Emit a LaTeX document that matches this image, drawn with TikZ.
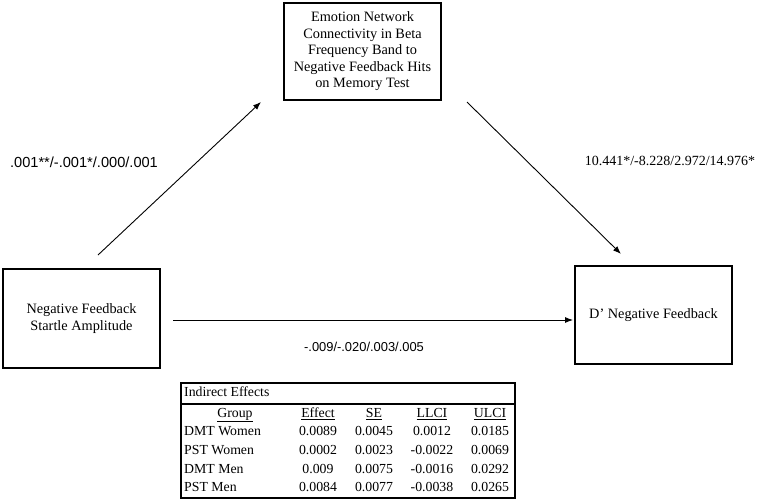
\documentclass[tikz,border=0pt]{standalone}
\usepackage{fontspec}
\setmainfont{Liberation Serif}
\newfontfamily\arialf{Liberation Sans}
\usetikzlibrary{arrows.meta}
\begin{document}
\begin{tikzpicture}[x=1pt,y=-1pt,
 box/.style={draw,line width=1.5pt,inner sep=0pt,font=\fontsize{14.3}{16.5}\selectfont,align=center},
 conn/.style={line width=0.9pt,-{Latex[length=8pt,width=6pt]}},
 lbl/.style={inner sep=0pt,font=\fontsize{14}{16}\selectfont},
 tcell/.style={inner sep=0pt,font=\fontsize{13.8}{15}\selectfont,text height=9.5pt,text depth=3pt}]
\useasboundingbox (0,0) rectangle (760,500);
% boxes
\node[box,minimum width=157pt,minimum height=97pt] (med) at (362.5,51.5)
  {Emotion Network\\Connectivity in Beta\\Frequency Band to\\Negative Feedback Hits\\on Memory Test};
\node[box,minimum width=157pt,minimum height=99pt] (iv) at (81.5,318.5)
  {Negative Feedback\\Startle Amplitude};
\node[box,minimum width=157pt,minimum height=98pt] (dv) at (653.5,315)
  {D’ Negative Feedback};
% arrows
\coordinate (a1s) at (98,255); \coordinate (a1e) at (261,102);
\coordinate (a2s) at (467,102); \coordinate (a2e) at (621,254);
\coordinate (a3s) at (173,320); \coordinate (a3e) at (573,320);
\draw[conn] (a1s) -- (a1e);
\draw[conn] (a2s) -- (a2e);
\draw[conn] (a3s) -- (a3e);
% path labels
\node[inner sep=0pt,font=\arialf\fontsize{14.6}{16}\selectfont] (la) at (84,162) {.001**/-.001*/.000/.001};
\node[lbl] (lb) at (670,161) {10.441*/-8.228/2.972/14.976*};
\node[inner sep=0pt,font=\arialf\fontsize{12.9}{16}\selectfont] (lc) at (364,347) {-.009/-.020/.003/.005};
% table
\node[draw,line width=1.3pt,minimum width=334pt,minimum height=115pt,inner sep=0pt] (tbl) at (348,440.5) {};
\coordinate (tl) at (181,404); \coordinate (tr) at (515,404);
\draw[line width=1.3pt] (tl) -- (tr);
\node[tcell,anchor=west] (title) at (184,393) {Indirect Effects};
\node[tcell] (h1) at (235,414) {\underline{Group}};
\node[tcell] (h2) at (318,414) {\underline{Effect}};
\node[tcell] (h3) at (374,414) {\underline{SE}};
\node[tcell] (h4) at (432,414) {\underline{LLCI}};
\node[tcell] (h5) at (490,414) {\underline{ULCI}};
\node[tcell,anchor=west] (r1) at (184,432) {DMT Women};
\node[tcell,anchor=west] (r2) at (184,451) {PST Women};
\node[tcell,anchor=west] (r3) at (184,470) {DMT Men};
\node[tcell,anchor=west] (r4) at (184,488) {PST Men};
\node[tcell] (c11) at (318,432) {0.0089};
\node[tcell] (c12) at (374,432) {0.0045};
\node[tcell] (c13) at (432,432) {0.0012};
\node[tcell] (c14) at (490,432) {0.0185};
\node[tcell] (c21) at (318,451) {0.0002};
\node[tcell] (c22) at (374,451) {0.0023};
\node[tcell] (c23) at (432,451) {-0.0022};
\node[tcell] (c24) at (490,451) {0.0069};
\node[tcell] (c31) at (318,470) {0.009};
\node[tcell] (c32) at (374,470) {0.0075};
\node[tcell] (c33) at (432,470) {-0.0016};
\node[tcell] (c34) at (490,470) {0.0292};
\node[tcell] (c41) at (318,488) {0.0084};
\node[tcell] (c42) at (374,488) {0.0077};
\node[tcell] (c43) at (432,488) {-0.0038};
\node[tcell] (c44) at (490,488) {0.0265};
\end{tikzpicture}
\end{document}
